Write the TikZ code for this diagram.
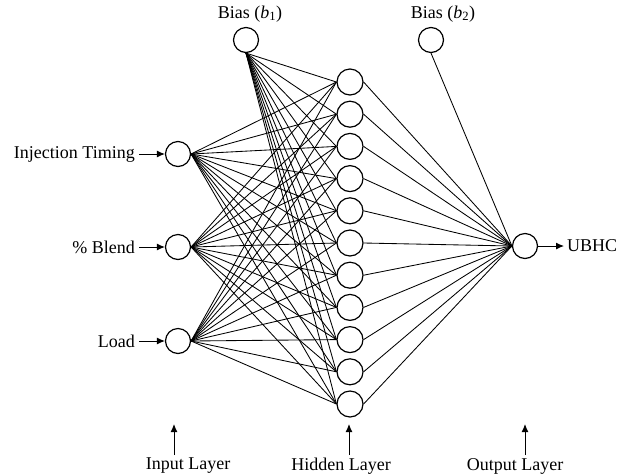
\documentclass[tikz,border=0pt]{standalone}
\usepackage{fontspec}
\setmainfont{Liberation Serif}
\usetikzlibrary{arrows.meta}
\begin{document}
\begin{tikzpicture}[x=1pt,y=-1pt,
  neuron/.style={circle,draw,line width=1.2pt,minimum size=25pt,inner sep=0pt},
  conn/.style={line width=0.85pt},
  inarrow/.style={line width=1pt,-{Latex[length=8pt,width=7pt]}},
  lbl/.style={font=\fontsize{18}{20}\selectfont,inner sep=0pt}]
\useasboundingbox (0,0) rectangle (628,475);
% input layer
\node[neuron] (i1) at (178,154) {};
\node[neuron] (i2) at (178,247) {};
\node[neuron] (i3) at (178,341) {};
% bias nodes
\node[neuron] (b1) at (246,40) {};
\node[neuron] (b2) at (431,40) {};
\node[lbl] (lb1) at (250,14) {Bias (\textit{b}\textsubscript{1})};
\node[lbl] (lb2) at (443,14) {Bias (\textit{b}\textsubscript{2})};
% hidden layer
\foreach \k in {1,...,11} {
  \node[neuron,minimum size=26pt] (h\k) at (350,{82+32.2*(\k-1)}) {};
}
% output
\node[neuron] (o) at (525,246) {};
% connections
\foreach \k in {1,...,11} {
  \foreach \i in {1,2,3} {\draw[conn] (i\i.east) -- (h\k.west);}
  \draw[conn] (b1.south) -- (h\k.west);
  \draw[conn] (h\k.east) -- (o.west);
}
\draw[conn] (b2.south) -- (o.west);
% input labels
\coordinate (a1) at (139,154);
\coordinate (a2) at (139,247);
\coordinate (a3) at (139,341);
\draw[inarrow] (a1) -- (i1.west);
\draw[inarrow] (a2) -- (i2.west);
\draw[inarrow] (a3) -- (i3.west);
\node[lbl,anchor=east] (t1) at (135,154) {Injection Timing};
\node[lbl,anchor=east] (t2) at (135,247) {\% Blend};
\node[lbl,anchor=east] (t3) at (135,341) {Load};
% output label
\coordinate (oa) at (564,246);
\draw[inarrow] (o.east) -- (oa);
\node[lbl,anchor=west] (ubhc) at (567,246) {UBHC};
% layer labels
\coordinate (la1) at (174,455);
\coordinate (la2) at (349,455);
\coordinate (la3) at (525,455);
\coordinate (lt1) at (174,424);
\coordinate (lt2) at (349,424);
\coordinate (lt3) at (525,424);
\draw[inarrow] (la1) -- (lt1);
\draw[inarrow] (la2) -- (lt2);
\draw[inarrow] (la3) -- (lt3);
\node[lbl] (L1) at (188,466) {Input Layer};
\node[lbl] (L2) at (341,466) {Hidden Layer};
\node[lbl] (L3) at (515,466) {Output Layer};
\end{tikzpicture}
\end{document}
